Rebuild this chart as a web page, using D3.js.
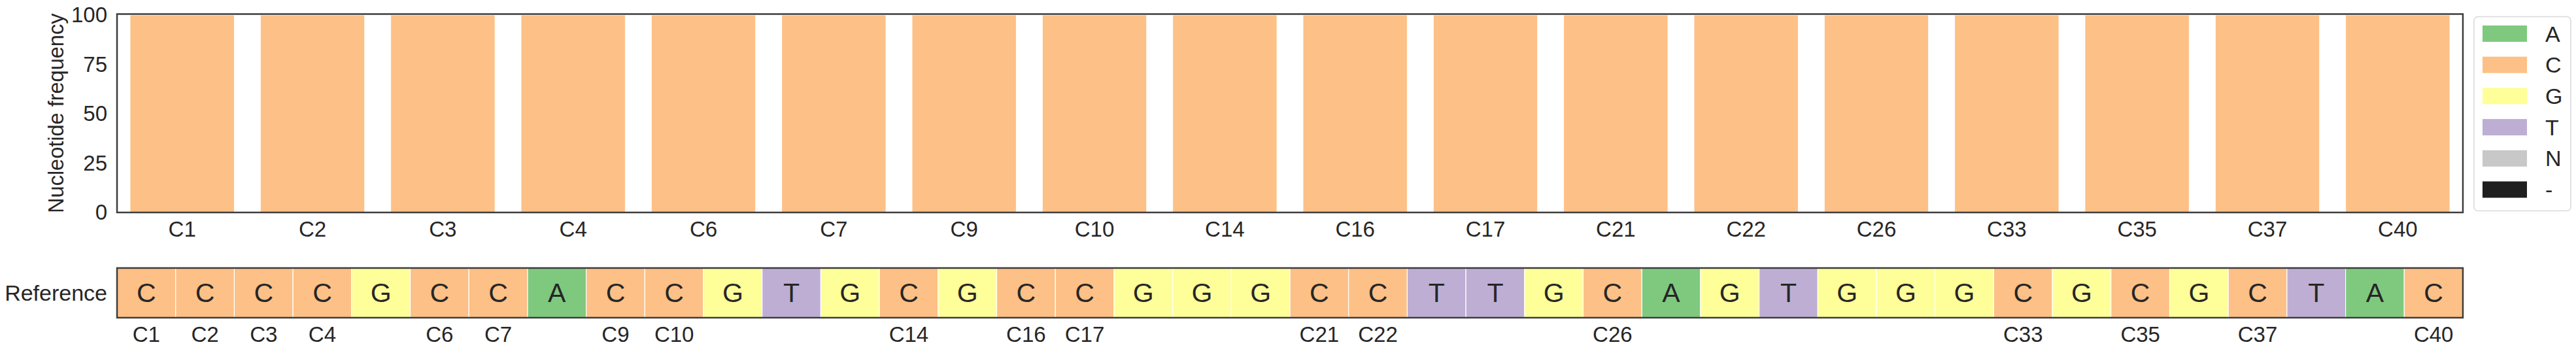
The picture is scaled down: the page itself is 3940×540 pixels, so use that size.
<!DOCTYPE html>
<html><head><meta charset="utf-8">
<script src="https://cdn.jsdelivr.net/npm/d3@7"></script>
<style>
html,body{margin:0;padding:0;background:#fff;}
text{font-family:"Liberation Sans",Arial,sans-serif;fill:#262626;}
</style></head>
<body><svg id="chart" width="3940" height="540"></svg>
<script>
// ---- data ----
const referenceSeq = ["C","C","C","C","G","C","C","A","C","C","G","T","G","C","G","C","C","G","G","G",
                      "C","C","T","T","G","C","A","G","T","G","G","G","C","G","C","G","C","T","A","C"];
const categories = ["C1","C2","C3","C4","C6","C7","C9","C10","C14","C16","C17","C21","C22","C26","C33","C35","C37","C40"];
const freqA    = [0,0,0,0,0,0,0,0,0,0,0,0,0,0,0,0,0,0];
const freqC    = [100,100,100,100,100,100,100,100,100,100,100,100,100,100,100,100,100,100];
const freqG    = [0,0,0,0,0,0,0,0,0,0,0,0,0,0,0,0,0,0];
const freqT    = [0,0,0,0,0,0,0,0,0,0,0,0,0,0,0,0,0,0];
const freqN    = [0,0,0,0,0,0,0,0,0,0,0,0,0,0,0,0,0,0];
const freqGap  = [0,0,0,0,0,0,0,0,0,0,0,0,0,0,0,0,0,0];
const nucleotides = ["A","C","G","T","N","-"];
const yTicks = [0,25,50,75,100];
const colors = {"A":"#7fc97f","C":"#fdc086","G":"#ffff99","T":"#beaed4","N":"#c8c8c8","-":"#1f1f1f"};

const freqBy = {"A":freqA,"C":freqC,"G":freqG,"T":freqT,"N":freqN,"-":freqGap};
const table = categories.map((c,i)=>{const o={cat:c}; nucleotides.forEach(n=>o[n]=freqBy[n][i]); return o;});

const svg = d3.select("#chart");
const L = 179, R = 3767;
const topY0 = 325, topY1 = 21.5;
const refTop = 410, refBot = 486;
const frameColor = "#3d3d3d";
const FONT = "'Liberation Sans',Arial,sans-serif";

// ---- top stacked bars ----
const x = d3.scaleBand().domain(categories).range([L,R]).paddingInner(0.2).paddingOuter(0.1);
const y = d3.scaleLinear().domain([0,100.5]).range([topY0,topY1]);
const series = d3.stack().keys(nucleotides)(table);
const gTop = svg.append("g");
gTop.selectAll("g.s").data(series).join("g").attr("fill",d=>colors[d.key])
  .selectAll("rect").data(d=>d).join("rect")
  .attr("x",d=>x(d.data.cat)).attr("width",x.bandwidth())
  .attr("y",d=>y(d[1])).attr("height",d=>Math.max(0,y(d[0])-y(d[1])))
  .attr("stroke","#fff").attr("stroke-width",d=>(d[1]-d[0])>0?1:0);

gTop.append("rect").attr("x",L).attr("y",topY1).attr("width",R-L).attr("height",topY0-topY1)
  .attr("fill","none").attr("stroke",frameColor).attr("stroke-width",2.5);

const yAxis = svg.append("g").attr("transform",`translate(${L},0)`)
  .call(d3.axisLeft(y).tickValues(yTicks).tickSize(0).tickPadding(15));
yAxis.select(".domain").remove();
yAxis.selectAll("text").attr("font-size",33).style("font-family",FONT).attr("fill","#262626");

const xAxis = svg.append("g").attr("transform",`translate(0,${topY0})`)
  .call(d3.axisBottom(x).tickSize(0).tickPadding(14));
xAxis.select(".domain").remove();
xAxis.selectAll("text").attr("font-size",33).style("font-family",FONT).attr("fill","#262626");

svg.append("text").attr("transform",`translate(97,${(topY0+topY1)/2}) rotate(-90)`)
  .attr("text-anchor","middle").attr("font-size",32.5).text("Nucleotide frequency");

// ---- reference row ----
const positions = referenceSeq.map((d,i)=>i+1);
const xr = d3.scaleBand().domain(positions).range([L,R]).padding(0);
const gRef = svg.append("g");
gRef.selectAll("rect").data(referenceSeq).join("rect")
  .attr("x",(d,i)=>xr(i+1)).attr("width",xr.bandwidth())
  .attr("y",refTop).attr("height",refBot-refTop)
  .attr("fill",d=>colors[d]).attr("stroke","#fff").attr("stroke-width",1.2);
gRef.selectAll("text.base").data(referenceSeq).join("text").attr("class","base")
  .attr("x",(d,i)=>xr(i+1)+xr.bandwidth()/2).attr("y",(refTop+refBot)/2)
  .attr("text-anchor","middle").attr("dominant-baseline","central")
  .attr("font-size",41).text(d=>d);
gRef.append("rect").attr("x",L).attr("y",refTop).attr("width",R-L).attr("height",refBot-refTop)
  .attr("fill","none").attr("stroke",frameColor).attr("stroke-width",2.5);

const refTickPos = positions.filter((p,i)=>referenceSeq[i]==="C");
const xRefAxis = svg.append("g").attr("transform",`translate(0,${refBot})`)
  .call(d3.axisBottom(xr).tickValues(refTickPos).tickFormat(p=>"C"+p).tickSize(0).tickPadding(14));
xRefAxis.select(".domain").remove();
xRefAxis.selectAll("text").attr("font-size",33).style("font-family",FONT).attr("fill","#262626");

svg.append("text").attr("x",164).attr("y",(refTop+refBot)/2).attr("text-anchor","end")
  .attr("dominant-baseline","central").attr("font-size",34).text("Reference");

// ---- legend ----
const lg = svg.append("g");
lg.append("rect").attr("x",3784).attr("y",25.5).attr("width",148).attr("height",297)
  .attr("rx",6).attr("fill","#fff").attr("stroke","#d9d9d9").attr("stroke-width",1.5);
const ly = d3.scalePoint().domain(nucleotides).range([51.5,290]);
lg.selectAll("rect.p").data(nucleotides).join("rect").attr("class","p")
  .attr("x",3797).attr("y",d=>ly(d)-12.5).attr("width",68).attr("height",25)
  .attr("fill",d=>colors[d]);
lg.selectAll("text").data(nucleotides).join("text")
  .attr("x",3893).attr("y",d=>ly(d)).attr("dominant-baseline","central")
  .attr("font-size",34).text(d=>d);
</script></body></html>
